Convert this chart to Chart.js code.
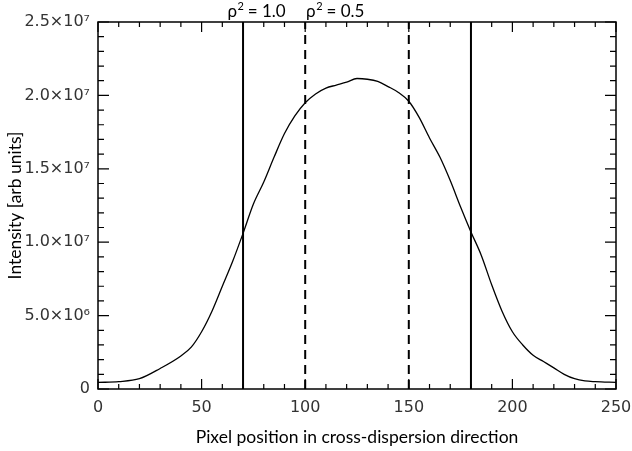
<!DOCTYPE html>
<html>
<head>
<meta charset="utf-8">
<script src="https://cdn.jsdelivr.net/npm/chart.js@4/dist/chart.umd.min.js"></script>
<style>
  html, body { margin: 0; padding: 0; background: #fff; }
  #wrap { width: 632px; height: 451px; position: relative; }
</style>
</head>
<body>
<div id="wrap"><canvas id="profileChart"></canvas></div>
<script>
// ─── Data ─────────────────────────────────────────────────
const pixelPos = [0, 10, 20, 30, 40, 45, 50, 55, 60, 65, 70, 75, 80, 85, 90, 95, 100, 105, 110, 115, 120, 125,
  130, 135, 140, 145, 150, 155, 160, 165, 170, 175, 180, 185, 190, 195, 200, 205, 210, 215, 220, 225, 230, 235, 240, 250];
const intensity = [0.45e6, 0.5e6, 0.7e6, 1.4e6, 2.25e6, 2.85e6, 3.9e6, 5.3e6, 7.0e6, 8.7e6, 10.6e6, 12.6e6,
  14.1e6, 15.8e6, 17.4e6, 18.6e6, 19.5e6, 20.1e6, 20.5e6, 20.7e6, 20.9e6, 21.15e6, 21.1e6, 20.95e6, 20.6e6,
  20.2e6, 19.6e6, 18.5e6, 17.1e6, 15.8e6, 14.2e6, 12.4e6, 10.7e6, 9.1e6, 7.1e6, 5.3e6, 3.9e6, 3.0e6, 2.3e6,
  1.87e6, 1.44e6, 1.0e6, 0.7e6, 0.55e6, 0.5e6, 0.45e6];

const solidLines = [70, 180];     // rho^2 = 1.0
const dashedLines = [100, 150];   // rho^2 = 0.5
const lineLabels = ['1.0', '0.5'];
const lineLabelAt = [76.5, 114.5];

const xTicks = [0, 50, 100, 150, 200, 250];
const yTicks = [0, 5e6, 1e7, 1.5e7, 2e7, 2.5e7];
const xMinorStep = 10;
const yMinorStep = 1e6;

// ─── Helpers ──────────────────────────────────────────────
const SUP = { '0': '⁰', '1': '¹', '2': '²', '3': '³', '4': '⁴', '5': '⁵', '6': '⁶', '7': '⁷', '8': '⁸', '9': '⁹' };
function sciLabel(v) {
  if (v === 0) return '0';
  const exp = Math.floor(Math.log10(v));
  const mant = (v / Math.pow(10, exp)).toFixed(1);
  return mant + '×10' + String(exp).split('').map(c => SUP[c]).join('');
}

const vline = (x, dash) => ({
  data: [{ x, y: 0 }, { x, y: 2.5e7 }],
  borderColor: '#000',
  borderWidth: 2,
  borderDash: dash,
  pointRadius: 0,
  tension: 0,
});

// ─── Frame + inward ticks + top labels ────────────────────
const framePlugin = {
  id: 'frame',
  afterDatasetsDraw(chart) {
    const { ctx, chartArea: a, scales: { x, y } } = chart;
    ctx.save();
    ctx.strokeStyle = '#000';
    ctx.lineWidth = 1.5;
    ctx.strokeRect(a.left, a.top, a.right - a.left, a.bottom - a.top);

    ctx.lineWidth = 1.2;
    ctx.beginPath();
    for (let v = x.min; v <= x.max; v += xMinorStep) {
      const px = x.getPixelForValue(v);
      const len = xTicks.includes(v) ? 10 : 5;
      ctx.moveTo(px, a.bottom); ctx.lineTo(px, a.bottom - len);
      ctx.moveTo(px, a.top); ctx.lineTo(px, a.top + len);
    }
    for (let v = y.min; v <= y.max + 1; v += yMinorStep) {
      const py = y.getPixelForValue(v);
      const len = yTicks.some(t => Math.abs(t - v) < 1) ? 11 : 6;
      ctx.moveTo(a.left, py); ctx.lineTo(a.left + len, py);
      ctx.moveTo(a.right, py); ctx.lineTo(a.right - len, py);
    }
    ctx.stroke();

    // rho^2 labels above the frame
    ctx.fillStyle = '#000';
    ctx.textBaseline = 'alphabetic';
    ctx.textAlign = 'left';
    lineLabels.forEach((t, i) => {
      ctx.font = '17px Lato';
      const rest = ' = ' + t;
      const wRho = ctx.measureText('ρ').width;
      const wRest = ctx.measureText(rest).width;
      ctx.font = '11px Lato';
      const wSup = ctx.measureText('2').width;
      const total = wRho + wSup + wRest;
      let left = x.getPixelForValue(lineLabelAt[i]) - total / 2;
      const base = 17;
      ctx.font = '17px Lato';
      ctx.fillText('ρ', left, base);
      ctx.font = '11px Lato';
      ctx.fillText('2', left + wRho + 0.5, base - 7);
      ctx.font = '17px Lato';
      ctx.fillText(rest, left + wRho + wSup, base);
    });
    ctx.restore();
  }
};

// ─── Chart ────────────────────────────────────────────────
new Chart(document.getElementById('profileChart'), {
  type: 'line',
  data: {
    datasets: [
      {
        data: pixelPos.map((p, i) => ({ x: p, y: intensity[i] })),
        borderColor: '#000',
        borderWidth: 1.3,
        pointRadius: 0,
        cubicInterpolationMode: 'monotone',
      },
      ...solidLines.map(v => vline(v, [])),
      ...dashedLines.map(v => vline(v, [9, 6])),
    ],
  },
  options: {
    responsive: true,
    maintainAspectRatio: false,
    animation: false,
    layout: { padding: { top: 22, right: 16, left: 0, bottom: 0 } },
    plugins: { legend: { display: false }, tooltip: { enabled: false } },
    scales: {
      x: {
        type: 'linear',
        min: 0, max: 250,
        afterBuildTicks: s => { s.ticks = xTicks.map(v => ({ value: v })); },
        afterFit: s => { s.height = 62; s.paddingLeft = 0; s.paddingRight = 0; },
        grid: { display: false, drawTicks: false },
        border: { display: false },
        ticks: { padding: 9, color: '#333', font: { family: 'DejaVu Sans', size: 16 }, maxRotation: 0 },
        title: {
          display: true,
          text: 'Pixel position in cross-dispersion direction',
          color: '#000',
          font: { family: 'Lato', size: 17.5 },
          padding: { top: 0, bottom: 3 },
        },
      },
      y: {
        min: 0, max: 2.5e7,
        afterBuildTicks: s => { s.ticks = yTicks.map(v => ({ value: v })); },
        afterFit: s => { s.width = 98; s.paddingTop = 0; s.paddingBottom = 0; },
        grid: { display: false, drawTicks: false },
        border: { display: false },
        ticks: { padding: 8, color: '#333', font: { family: 'DejaVu Sans', size: 16 }, callback: v => sciLabel(v) },
        title: {
          display: true,
          text: 'Intensity [arb units]',
          color: '#000',
          font: { family: 'Lato', size: 17.5 },
          padding: { top: 5, bottom: 0 },
        },
      },
    },
  },
  plugins: [framePlugin],
});
</script>
</body>
</html>
